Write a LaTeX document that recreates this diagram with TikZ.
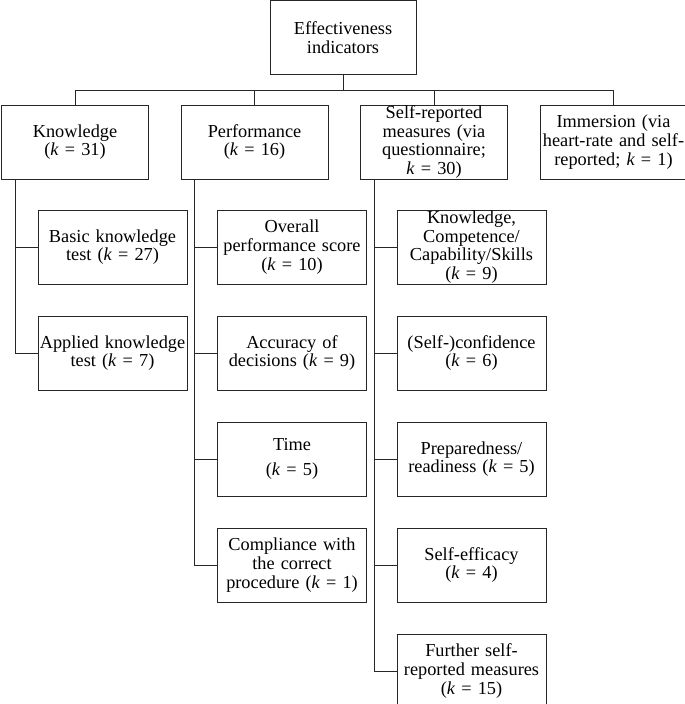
\documentclass[tikz,border=0pt]{standalone}
\usepackage{fontspec}
\setmainfont{Liberation Serif}
\usepackage{tikz}
\usetikzlibrary{positioning,calc}

\begin{document}
\begin{tikzpicture}[x=1pt,y=1pt,line width=1pt]
				\tikzstyle{every node}=[font=\fontsize{18.3}{18.6}\selectfont,text=black]
				\tikzstyle{box}=[draw=black!85,align=center,inner xsep=1pt,inner ysep=0pt,minimum height=74pt,text width=145pt]
				\tikzstyle{item}=[box,text width=147pt]
				\tikzstyle{link}=[draw=black!85]
				\useasboundingbox (0,0) rectangle (685,-704);
				
				\node[box,text width=144pt] (top) at (343,-37.5) {Effectiveness\\indicators};
				
				\node[box] (know) at (75,-142) {Knowledge\\(\textit{k} = 31)};
				\node[box] (perf) [right = 31.5pt of know] {Performance\\(\textit{k} = 16)};
				\node[box] (self) [right = 31.5pt of perf] {Self-reported\\measures (via\\questionnaire;\\\textit{k} = 30)};
				\node[box] (imm)  [right = 31.5pt of self] {Immersion (via\\heart-rate and self-\\reported; \textit{k} = 1)};
				
				\node[item] (basic)   [below = 30pt of know, xshift=37.5pt] {Basic knowledge\\test (\textit{k} = 27)};
				\node[item] (applied) [below = 31pt of basic] {Applied knowledge\\test (\textit{k} = 7)};
				
				\node[item] (overall)  [below = 30pt of perf, xshift=37.5pt] {Overall\\performance score\\(\textit{k} = 10)};
				\node[item] (accuracy) [below = 31pt of overall] {Accuracy of\\decisions (\textit{k} = 9)};
				\node[item] (time)     [below = 31pt of accuracy] {Time\\[7pt](\textit{k} = 5)};
				\node[item] (comply)   [below = 31pt of time] {Compliance with\\the correct\\procedure (\textit{k} = 1)};
				
				\node[item] (skills)  [below = 30pt of self, xshift=37.5pt] {Knowledge,\\Competence/\\Capability/Skills\\(\textit{k} = 9)};
				\node[item] (conf)    [below = 31pt of skills] {(Self-)confidence\\(\textit{k} = 6)};
				\node[item] (ready)   [below = 31pt of conf] {Preparedness/\\readiness (\textit{k} = 5)};
				\node[item] (efficacy)[below = 31pt of ready] {Self-efficacy\\(\textit{k} = 4)};
				\node[item] (further) [below = 31pt of efficacy] {Further self-\\reported measures\\(\textit{k} = 15)};
				
				\foreach \n in {know,perf,self,imm}
				\draw[link] (top.south) -- ++(0,-15) -| (\n.north);
				
				\foreach \n in {basic,applied}
				\draw[link] ([xshift=14pt]know.south west) |- (\n.west);
				\foreach \n in {overall,accuracy,time,comply}
				\draw[link] ([xshift=14pt]perf.south west) |- (\n.west);
				\foreach \n in {skills,conf,ready,efficacy,further}
				\draw[link] ([xshift=14pt]self.south west) |- (\n.west);
			\end{tikzpicture}
\end{document}
